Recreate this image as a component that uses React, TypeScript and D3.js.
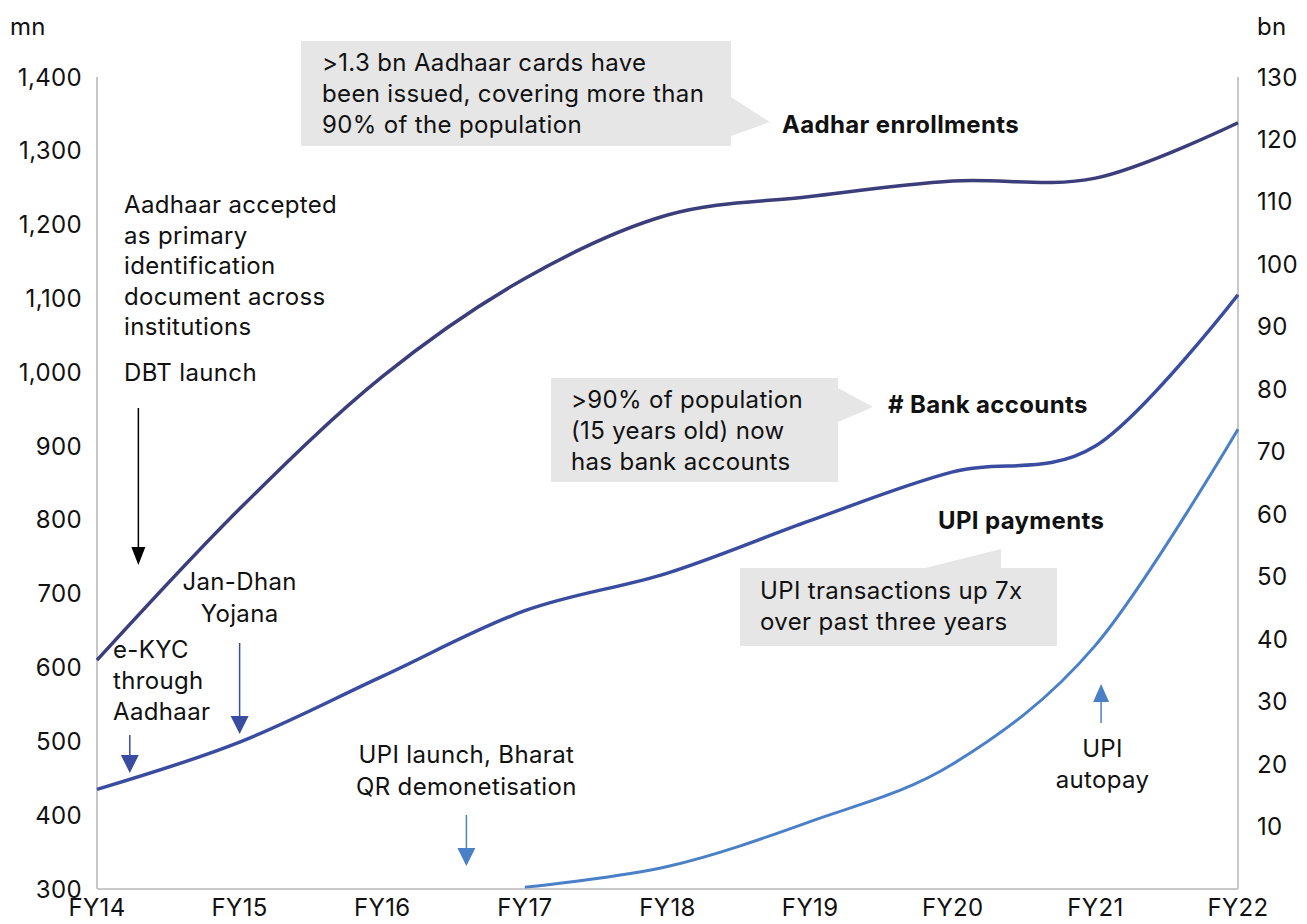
import * as d3 from "d3";

const years = ["FY14", "FY15", "FY16", "FY17", "FY18", "FY19", "FY20", "FY21", "FY22"];
const aadhaar = [610, 815, 994, 1127, 1213, 1238, 1259, 1263, 1338];
const bankAccounts = [435, 499, 588, 677, 728, 799, 865, 900, 1105];
const upiYears = ["FY17", "FY18", "FY19", "FY20", "FY21", "FY22"];
const upiPayments = [0.3, 3.6, 10.8, 20, 39, 73.6];
const leftTicks = [300, 400, 500, 600, 700, 800, 900, 1000, 1100, 1200, 1300, 1400];
const rightTicks = [10, 20, 30, 40, 50, 60, 70, 80, 90, 100, 110, 120, 130];

const W = 1307;
const H = 924;
const FONT = "Inter, 'Noto Sans', sans-serif";
const FS = 24;
const LS = 0.35;
const C_AADHAAR = "#3b3e7b";
const C_BANK = "#3a4ca0";
const C_UPI = "#4a80c6";
const GREY = "#e6e6e6";

const x = d3.scalePoint().domain(years).range([97, 1238]);
const yL = d3.scaleLinear().domain([300, 1400]).range([889, 77]);
const yR = d3.scaleLinear().domain([0, 130]).range([889, 77]);

const smooth = d3.curveCardinal.tension(0);
const lineL = d3
  .line<[string, number]>()
  .x((d) => x(d[0])!)
  .y((d) => yL(d[1]))
  .curve(smooth);
const lineR = d3
  .line<[string, number]>()
  .x((d) => x(d[0])!)
  .y((d) => yR(d[1]))
  .curve(smooth);

function Arrow({ x0, y0, y1, color, head = 9 }: { x0: number; y0: number; y1: number; color: string; head?: number }) {
  const dir = y1 > y0 ? 1 : -1;
  const hl = 18;
  return (
    <g>
      <line x1={x0} y1={y0} x2={x0} y2={y1 - dir * hl} stroke={color} strokeWidth={1.5} />
      <path d={`M${x0 - head},${y1 - dir * hl}L${x0 + head},${y1 - dir * hl}L${x0},${y1}Z`} fill={color} />
    </g>
  );
}

function Lines({ lines, x0, y0, lh, anchor = "start", weight = 400 }: { lines: string[]; x0: number; y0: number; lh: number; anchor?: string; weight?: number }) {
  return (
    <text x={x0} y={y0} fontFamily={FONT} fontSize={FS} letterSpacing={LS} fontWeight={weight} fill="#111" textAnchor={anchor as any}>
      {lines.map((l, i) => (
        <tspan key={i} x={x0} dy={i === 0 ? 0 : lh}>
          {l}
        </tspan>
      ))}
    </text>
  );
}

export default function App() {
  const xi = (i: number) => x(years[0])! + (x(years[1])! - x(years[0])!) * i;
  const tick = { fontFamily: FONT, fontSize: FS, letterSpacing: LS, fill: "#111" };
  return (
    <svg width={W} height={H} style={{ position: "absolute", left: 0, top: 0, background: "#fff" }}>
      {/* axes */}
      <line x1={97} x2={97} y1={77} y2={889} stroke="#c8c8c8" strokeWidth={2} />
      <line x1={1238} x2={1238} y1={77} y2={889} stroke="#c8c8c8" strokeWidth={2} />
      <line x1={97} x2={1238} y1={889} y2={889} stroke="#c8c8c8" strokeWidth={2} />
      <text x={10} y={35} {...tick}>mn</text>
      <text x={1257} y={35} {...tick}>bn</text>
      {leftTicks.map((t) => (
        <text key={t} x={82} y={yL(t) + 8.5} textAnchor="end" {...tick}>
          {d3.format(",")(t)}
        </text>
      ))}
      {rightTicks.map((t) => (
        <text key={t} x={1257} y={yR(t) + 8.5} {...tick}>
          {t}
        </text>
      ))}
      {years.map((yr) => (
        <text key={yr} x={x(yr)} y={916} textAnchor="middle" {...tick}>
          {yr}
        </text>
      ))}

      {/* callout boxes */}
      <path d="M301,41H731V97L770,122L731,136V146H301Z" fill={GREY} />
      <path d="M551,378H838V388L873,407L838,422V482H551Z" fill={GREY} />
      <path d="M740,568H925L1001,549V568H1057V646H740Z" fill={GREY} />
      <Lines lines={[">1.3 bn Aadhaar cards have", "been issued, covering more than", "90% of the population"]} x0={322} y0={71} lh={31} />
      <Lines lines={[">90% of population", "(15 years old) now", "has bank accounts"]} x0={571} y0={408} lh={31} />
      <Lines lines={["UPI transactions up 7x", "over past three years"]} x0={760} y0={599} lh={31} />

      {/* series */}
      <path d={lineL(years.map((y, i) => [y, aadhaar[i]]))!} fill="none" stroke={C_AADHAAR} strokeWidth={3.5} />
      <path d={lineL(years.map((y, i) => [y, bankAccounts[i]]))!} fill="none" stroke={C_BANK} strokeWidth={3.5} />
      <path d={lineR(upiYears.map((y, i) => [y, upiPayments[i]]))!} fill="none" stroke={C_UPI} strokeWidth={3} />

      {/* series labels */}
      <Lines lines={["Aadhar enrollments"]} x0={782} y0={133} lh={0} weight={700} />
      <Lines lines={["# Bank accounts"]} x0={888} y0={413} lh={0} weight={700} />
      <Lines lines={["UPI payments"]} x0={938} y0={529} lh={0} weight={700} />

      {/* event annotations */}
      <Lines lines={["Aadhaar accepted", "as primary", "identification", "document across", "institutions"]} x0={124} y0={213} lh={30.5} />
      <Lines lines={["DBT launch"]} x0={124} y0={381} lh={0} />
      <Arrow x0={xi(0.29)} y0={408} y1={565} color="#000" head={7} />
      <Lines lines={["Jan-Dhan", "Yojana"]} x0={xi(1)} y0={590} lh={32} anchor="middle" />
      <Arrow x0={xi(1)} y0={643} y1={734} color={C_BANK} />
      <Lines lines={["e-KYC", "through", "Aadhaar"]} x0={113} y0={658} lh={31} />
      <Arrow x0={xi(0.23)} y0={735} y1={773} color={C_BANK} />
      <Lines lines={["UPI launch, Bharat", "QR demonetisation"]} x0={xi(2.59)} y0={763} lh={32} anchor="middle" />
      <Arrow x0={xi(2.59)} y0={815} y1={866} color={C_UPI} />
      <Lines lines={["UPI", "autopay"]} x0={xi(7.05)} y0={757} lh={31} anchor="middle" />
      <Arrow x0={xi(7.04)} y0={723} y1={684} color={C_UPI} head={8} />
    </svg>
  );
}
